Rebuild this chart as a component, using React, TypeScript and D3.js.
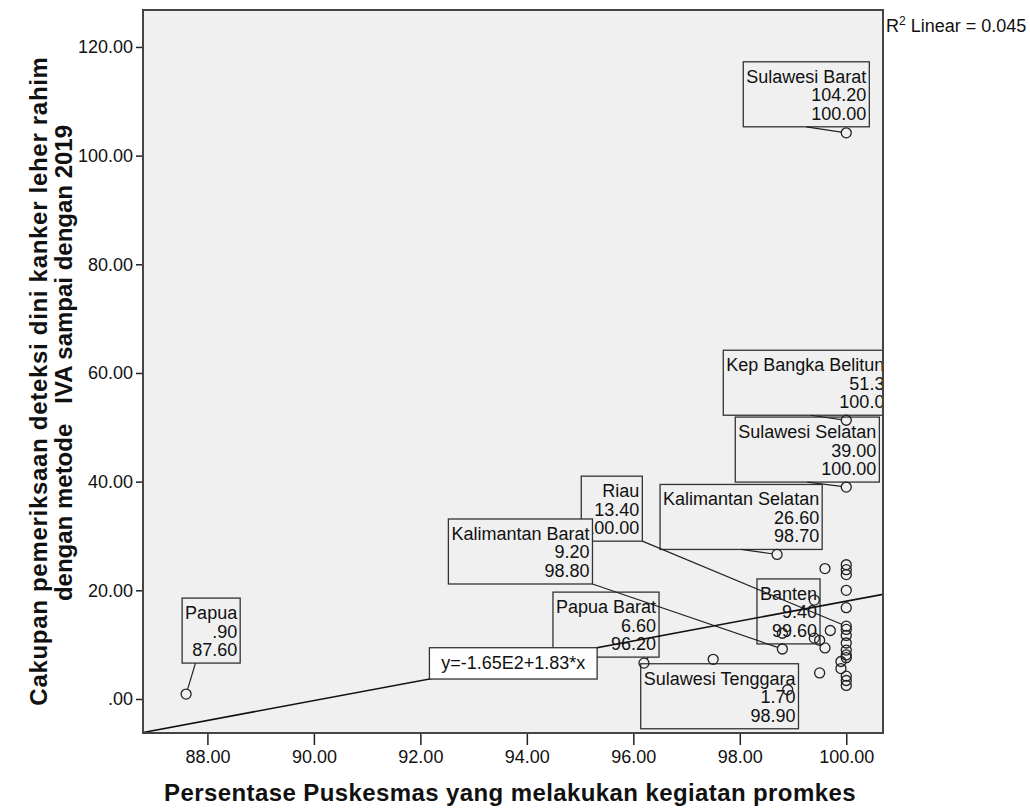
import React, { useEffect, useRef } from 'react';
import * as d3 from 'd3';

// provinces that carry a label in the chart: name, cakupan IVA (y), % puskesmas promkes (x)
const labelNames = [
  'Sulawesi Barat', 'Kep Bangka Belitung', 'Sulawesi Selatan', 'Kalimantan Selatan', 'Riau',
  'Kalimantan Barat', 'Papua Barat', 'Banten', 'Sulawesi Tenggara', 'Papua'
];
const labelX = [100.0, 100.0, 100.0, 98.7, 100.0, 98.8, 96.2, 99.6, 98.9, 87.6];
const labelY = [104.2, 51.3, 39.0, 26.6, 13.4, 9.2, 6.6, 9.4, 1.7, 0.9];

// the remaining provinces (unlabelled circles)
const otherX = [
  100, 100, 100, 100, 100, 100, 100, 100, 100, 100, 100, 100, 100, 100,
  99.9, 99.9, 99.6, 99.4, 99.7, 99.4, 99.5, 98.8, 97.5, 99.5
];
const otherY = [
  24.7, 23.8, 22.9, 20.0, 16.8, 12.8, 11.7, 10.3, 9.0, 8.1, 7.6, 4.2, 3.4, 2.5,
  6.9, 5.6, 24.0, 18.2, 12.6, 11.2, 10.8, 12.1, 7.3, 4.8
];

const xTicks = [88, 90, 92, 94, 96, 98, 100];
const yTicks = [0, 20, 40, 60, 80, 100, 120];

// linear fit
const intercept = -165;
const slope = 1.83;
const rSquared = 0.045;
const equationText = 'y=-1.65E2+1.83*x';

// label box placement relative to its point (px), and where the leader leaves the box bottom
const labelLayout = [
  { dx: -103, dy: -71, anchor: 0.5 },
  { dx: -123, dy: -70, anchor: 0.5 },
  { dx: -111, dy: -70, anchor: 0.5 },
  { dx: -117, dy: -70, anchor: 0.5 },
  { dx: -265, dy: -150, anchor: 1 },
  { dx: -334, dy: -130, anchor: 1 },
  { dx: -91, dy: -71, anchor: 0.9 },
  { dx: -68, dy: -69, anchor: 1 },
  { dx: -147, dy: -26, anchor: null },
  { dx: -4, dy: -96, anchor: 0.23 }
];

const W = 1030;
const H = 809;
const plot = { left: 143, right: 883, top: 10, bottom: 733 };
const font = "'Liberation Sans', Arial, sans-serif";

function App() {
  const svgRef = useRef<SVGSVGElement>(null);

  useEffect(() => {
    document.body.style.margin = '0';
    const svg = d3.select(svgRef.current);
    svg.selectAll('*').remove();

    const x = d3.scaleLinear().domain([86.79, 100.69]).range([plot.left, plot.right]);
    const y = d3.scaleLinear().domain([-6.26, 126.8]).range([plot.bottom, plot.top]);
    const fmt = (v: number) => d3.format('.2f')(v).replace(/^0\./, '.');

    // plot background
    svg.append('rect')
      .attr('x', plot.left).attr('y', plot.top)
      .attr('width', plot.right - plot.left).attr('height', plot.bottom - plot.top)
      .attr('fill', '#f0f0f0');

    svg.append('defs').append('clipPath').attr('id', 'plotClip')
      .append('rect')
      .attr('x', plot.left).attr('y', plot.top)
      .attr('width', plot.right - plot.left).attr('height', plot.bottom - plot.top);

    const inner = svg.append('g').attr('clip-path', 'url(#plotClip)');

    // label boxes
    const boxLayer = inner.append('g')
      .style('font-family', font).style('font-size', '18px');
    const leaders: { x1: number; y1: number; x2: number; y2: number }[] = [];
    const boxH = 65;

    labelNames.forEach((name, i) => {
      const px = x(labelX[i]);
      const py = y(labelY[i]);
      const lay = labelLayout[i];
      const bx = px + lay.dx;
      const by = py + lay.dy;
      const g = boxLayer.append('g');
      const rect = g.append('rect');
      const lines = [name, fmt(labelY[i]), fmt(labelX[i])];
      const texts = lines.map((t, k) =>
        g.append('text')
          .attr('y', by + 21 + k * 18.5)
          .attr('text-anchor', 'end')
          .attr('fill', '#111')
          .text(t)
      );
      const w = Math.max(...texts.map(t => (t.node() as SVGTextElement).getComputedTextLength())) + 6;
      texts.forEach(t => t.attr('x', bx + w - 3));
      rect.attr('x', bx).attr('y', by)
        .attr('width', w).attr('height', boxH)
        .attr('fill', '#f0f0f0')
        .attr('stroke', '#333')
        .attr('stroke-width', 1.3);
      if (lay.anchor !== null) {
        leaders.push({ x1: bx + lay.anchor * w, y1: by + boxH, x2: px, y2: py });
      }
    });

    // leader lines, stopping at the circle edge
    const r = 5;
    inner.append('g').selectAll('line')
      .data(leaders)
      .enter()
      .append('line')
      .attr('x1', d => d.x1)
      .attr('y1', d => d.y1)
      .attr('x2', d => {
        const len = Math.hypot(d.x2 - d.x1, d.y2 - d.y1);
        return d.x2 - (d.x2 - d.x1) * r / len;
      })
      .attr('y2', d => {
        const len = Math.hypot(d.x2 - d.x1, d.y2 - d.y1);
        return d.y2 - (d.y2 - d.y1) * r / len;
      })
      .attr('stroke', '#222')
      .attr('stroke-width', 1.2);

    // points
    const pts = labelX.map((v, i) => [v, labelY[i]]).concat(otherX.map((v, i) => [v, otherY[i]]));
    inner.append('g').selectAll('circle')
      .data(pts)
      .enter()
      .append('circle')
      .attr('cx', d => x(d[0]))
      .attr('cy', d => y(d[1]))
      .attr('r', r)
      .attr('fill', 'none')
      .attr('stroke', '#222')
      .attr('stroke-width', 1.3);

    // fit line
    const fit = (v: number) => intercept + slope * v;
    const [x0, x1] = x.domain();
    inner.append('path')
      .attr('d', d3.line()([[x(x0), y(fit(x0))], [x(x1), y(fit(x1))]]))
      .attr('stroke', '#111')
      .attr('stroke-width', 1.6)
      .attr('fill', 'none');

    // equation box sitting on the line
    const eqFrom = 92.17;
    const eqTo = 95.32;
    const ex0 = x(eqFrom), ey0 = y(fit(eqFrom));
    const ex1 = x(eqTo), ey1 = y(fit(eqTo));
    inner.append('rect')
      .attr('x', ex0).attr('y', ey1)
      .attr('width', ex1 - ex0).attr('height', ey0 - ey1)
      .attr('fill', '#fff')
      .attr('stroke', '#333')
      .attr('stroke-width', 1.3);
    inner.append('text')
      .attr('x', (ex0 + ex1) / 2)
      .attr('y', ey0 - 10)
      .attr('text-anchor', 'middle')
      .style('font-family', font)
      .style('font-size', '18px')
      .attr('fill', '#111')
      .text(equationText);

    // axes
    const xAxis = svg.append('g')
      .attr('transform', `translate(0,${plot.bottom})`)
      .call(d3.axisBottom(x).tickValues(xTicks).tickSize(12).tickPadding(5).tickFormat(d => fmt(+d)));
    const yAxis = svg.append('g')
      .attr('transform', `translate(${plot.left},0)`)
      .call(d3.axisLeft(y).tickValues(yTicks).tickSize(7).tickPadding(3).tickFormat(d => fmt(+d)));
    [xAxis, yAxis].forEach(a => {
      a.select('.domain').remove();
      a.selectAll('line').attr('stroke', '#222').attr('stroke-width', 1.5);
      a.selectAll('text')
        .style('font-family', font)
        .style('font-size', '18px')
        .attr('fill', '#111');
    });

    // frame
    svg.append('rect')
      .attr('x', plot.left).attr('y', plot.top)
      .attr('width', plot.right - plot.left).attr('height', plot.bottom - plot.top)
      .attr('fill', 'none')
      .attr('stroke', '#444')
      .attr('stroke-width', 2);

    // R² annotation
    const rt = svg.append('text')
      .attr('x', plot.right + 3)
      .attr('y', 32)
      .style('font-family', font)
      .style('font-size', '18px')
      .attr('fill', '#111');
    rt.append('tspan').text('R');
    rt.append('tspan').attr('dy', -7).style('font-size', '12px').text('2');
    rt.append('tspan').attr('dy', 7).text(` Linear = ${rSquared.toFixed(3)}`);

    // axis titles
    svg.append('text')
      .attr('x', 510)
      .attr('y', 801)
      .attr('text-anchor', 'middle')
      .style('font-family', font)
      .style('font-size', '24px')
      .style('font-weight', 'bold')
      .style('letter-spacing', '0.4px')
      .attr('fill', '#111')
      .text('Persentase Puskesmas yang melakukan kegiatan promkes');

    svg.append('text')
      .attr('transform', 'translate(47,381) rotate(-90)')
      .attr('text-anchor', 'middle')
      .style('font-family', font)
      .style('font-size', '24px')
      .style('font-weight', 'bold')
      .style('letter-spacing', '0.7px')
      .attr('fill', '#111')
      .text('Cakupan pemeriksaan deteksi dini kanker leher rahim');

    svg.append('text')
      .attr('transform', 'translate(72,363) rotate(-90)')
      .attr('text-anchor', 'middle')
      .style('font-family', font)
      .style('font-size', '24px')
      .style('font-weight', 'bold')
      .style('white-space', 'pre')
      .attr('fill', '#111')
      .text('dengan metode   IVA sampai dengan 2019');
  }, []);

  return (
    <svg
      ref={svgRef}
      width={W}
      height={H}
      style={{ display: 'block', background: '#fff' }}
    />
  );
}

export default App;
